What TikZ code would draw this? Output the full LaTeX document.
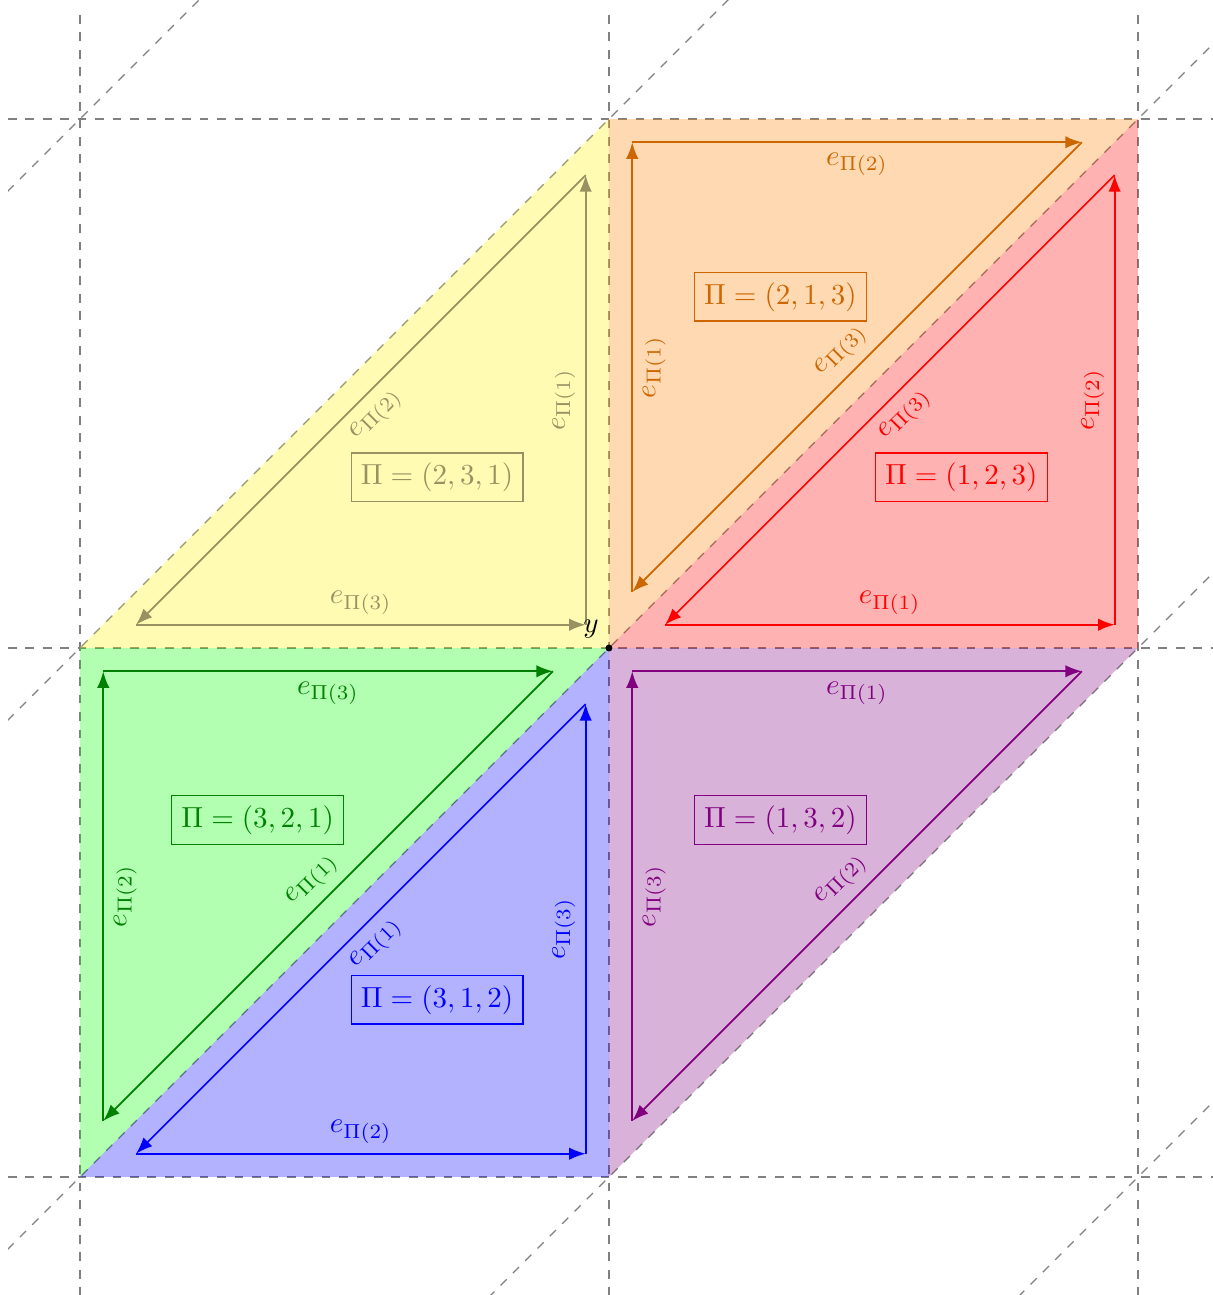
\documentclass[tikz,border=0pt]{standalone}
\usepackage{amsmath}
\usepackage{amssymb}
\usepackage{tikz}
\usetikzlibrary{arrows.meta}
\definecolor{plkhaki}{RGB}{152,146,98}
\definecolor{plorange}{RGB}{204,102,0}
\definecolor{plgreen}{RGB}{0,128,0}

\begin{document}
\begin{tikzpicture}[x=6.4cm, y=6.4cm,
  gridline/.style={dashed, gray, line width=0.4pt},
  halfsquare/.style={fill opacity=0.3},
  edgearrow/.style={semithick, -{Latex}},
  permbox/.style={draw, line width=0.4pt}]
\useasboundingbox (-1.1512,-1.2231) rectangle (1.1418,1.2250);
% Dashed lattice
\foreach \i in {-1,0,1} {
  \draw[gridline] (-1.136,\i) -- (1.142,\i);
  \draw[gridline] (\i,-1.225) -- (\i,1.198);
}
\begin{scope}
\clip (-1.136,-1.225) rectangle (1.136,1.225);
\foreach \c in {-2,...,2}
  \draw[gridline] (-1.3,-1.3-\c) -- (1.3,1.3-\c);
\end{scope}
% Coloured triangles
\fill[halfsquare, yellow] (-1,0) -- (0,1) -- (0,0) -- cycle;
\fill[halfsquare, orange] (0,0) -- (0,1) -- (1,1) -- cycle;
\fill[halfsquare, red] (0,0) -- (1,1) -- (1,0) -- cycle;
\fill[halfsquare, green] (-1,0) -- (0,0) -- (-1,-1) -- cycle;
\fill[halfsquare, blue] (-1,-1) -- (0,0) -- (0,-1) -- cycle;
\fill[halfsquare, violet] (0,0) -- (1,0) -- (0,-1) -- cycle;
% Corners of the inner triangles
\coordinate (ya) at (-0.894,0.044);
\coordinate (yb) at (-0.044,0.044);
\coordinate (yc) at (-0.044,0.894);
\coordinate (oa) at (0.044,0.106);
\coordinate (ob) at (0.044,0.956);
\coordinate (oc) at (0.894,0.956);
\coordinate (ra) at (0.106,0.044);
\coordinate (rb) at (0.956,0.044);
\coordinate (rc) at (0.956,0.894);
\coordinate (ga) at (-0.956,-0.894);
\coordinate (gb) at (-0.956,-0.044);
\coordinate (gc) at (-0.106,-0.044);
\coordinate (ba) at (-0.894,-0.956);
\coordinate (bb) at (-0.044,-0.956);
\coordinate (bc) at (-0.044,-0.106);
\coordinate (va) at (0.044,-0.894);
\coordinate (vb) at (0.044,-0.044);
\coordinate (vc) at (0.894,-0.044);
% Yellow (2,3,1)
\draw[edgearrow, plkhaki] (ya) -- node[sloped, above] {$e_{\Pi(3)}$} (yb);
\draw[edgearrow, plkhaki] (yb) -- node[sloped, above] {$e_{\Pi(1)}$} (yc);
\draw[edgearrow, plkhaki] (yc) -- node[sloped, below] {$e_{\Pi(2)}$} (ya);
\node[permbox, plkhaki] (pyellow) at (-0.325,0.323) {$\Pi=(2,3,1)$};
% Orange (2,1,3)
\draw[edgearrow, plorange] (oa) -- node[sloped, below] {$e_{\Pi(1)}$} (ob);
\draw[edgearrow, plorange] (ob) -- node[sloped, below] {$e_{\Pi(2)}$} (oc);
\draw[edgearrow, plorange] (oc) -- node[sloped, above] {$e_{\Pi(3)}$} (oa);
\node[permbox, plorange] (porange) at (0.324,0.664) {$\Pi=(2,1,3)$};
% Red (1,2,3)
\draw[edgearrow, red] (ra) -- node[sloped, above] {$e_{\Pi(1)}$} (rb);
\draw[edgearrow, red] (rb) -- node[sloped, above] {$e_{\Pi(2)}$} (rc);
\draw[edgearrow, red] (rc) -- node[sloped, below] {$e_{\Pi(3)}$} (ra);
\node[permbox, red] (pred) at (0.666,0.323) {$\Pi=(1,2,3)$};
% Green (3,2,1)
\draw[edgearrow, plgreen] (ga) -- node[sloped, below] {$e_{\Pi(2)}$} (gb);
\draw[edgearrow, plgreen] (gb) -- node[sloped, below] {$e_{\Pi(3)}$} (gc);
\draw[edgearrow, plgreen] (gc) -- node[sloped, above] {$e_{\Pi(1)}$} (ga);
\node[permbox, plgreen] (pgreen) at (-0.664,-0.325) {$\Pi=(3,2,1)$};
% Blue (3,1,2)
\draw[edgearrow, blue] (ba) -- node[sloped, above] {$e_{\Pi(2)}$} (bb);
\draw[edgearrow, blue] (bb) -- node[sloped, above] {$e_{\Pi(3)}$} (bc);
\draw[edgearrow, blue] (bc) -- node[sloped, below] {$e_{\Pi(1)}$} (ba);
\node[permbox, blue] (pblue) at (-0.325,-0.665) {$\Pi=(3,1,2)$};
% Violet (1,3,2)
\draw[edgearrow, violet] (va) -- node[sloped, below] {$e_{\Pi(3)}$} (vb);
\draw[edgearrow, violet] (vb) -- node[sloped, below] {$e_{\Pi(1)}$} (vc);
\draw[edgearrow, violet] (vc) -- node[sloped, above] {$e_{\Pi(2)}$} (va);
\node[permbox, violet] (pviolet) at (0.324,-0.325) {$\Pi=(1,3,2)$};
% The point y
\coordinate (y) at (0,0);
\fill (y) circle (1.2pt);
\node[above left] (ylabel) at (y) {$y$};
\end{tikzpicture}
\end{document}
